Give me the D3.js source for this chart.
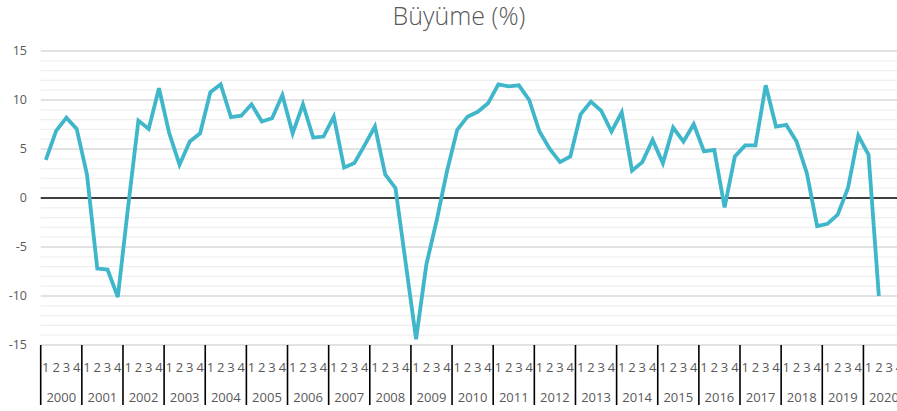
<!DOCTYPE html>
<html>
<head>
<meta charset="utf-8">
<script src="https://cdn.jsdelivr.net/npm/d3@7"></script>
<style>
  body { margin: 0; background: #fff; }
  svg text { font-family: "Open Sans", sans-serif; fill: #595959; }
</style>
</head>
<body>
<svg id="chart" width="897" height="411"></svg>
<script>
var years = d3.range(2000, 2021);
var quarters = ["1", "2", "3", "4"];
var yTicks = [15, 10, 5, 0, -5, -10, -15];

// quarterly growth, 2000Q1 .. 2020Q2
var growth = [
  3.9, 6.85, 8.2, 7.05,
  2.4, -7.2, -7.3, -10.1,
  -0.9, 7.9, 7.05, 11.2,
  6.6, 3.4, 5.76, 6.6,
  10.8, 11.6, 8.24, 8.4,
  9.56, 7.8, 8.14, 10.5,
  6.6, 9.56, 6.17, 6.27,
  8.3, 3.1, 3.56, 5.4,
  7.3, 2.4, 1.0, -6.7,
  -14.4, -6.8, -2.3, 2.7,
  6.95, 8.3, 8.8, 9.66,
  11.6, 11.4, 11.5, 10.0,
  6.78, 5.0, 3.66, 4.24,
  8.54, 9.83, 8.9, 6.78,
  8.75, 2.78, 3.66, 5.93,
  3.56, 7.19, 5.76, 7.53,
  4.75, 4.9, -0.95, 4.24,
  5.36, 5.36, 11.5, 7.29,
  7.46, 5.76, 2.54, -2.88,
  -2.64, -1.7, 1.02, 6.37,
  4.4, -10.0
];

var svg = d3.select("#chart"),
    left = 40.7,
    qw = 10.284,
    plotTop = 51,
    plotBottom = 345,
    right = 897;

var slots = [];
years.forEach(function(yr) {
  quarters.forEach(function(q) { slots.push(yr + "-" + q); });
});

var x = d3.scaleBand()
  .domain(slots)
  .range([left, left + slots.length * qw]);

var y = d3.scaleLinear()
  .domain([-15, 15])
  .range([plotBottom, plotTop]);

// minor grid
svg.append("g")
  .selectAll("line")
  .data(d3.range(-15, 16).filter(function(d) { return d % 5 !== 0; }))
  .enter().append("line")
  .attr("x1", left).attr("x2", right)
  .attr("y1", function(d) { return y(d); })
  .attr("y2", function(d) { return y(d); })
  .attr("stroke", "#efefef")
  .attr("stroke-width", 1.2);

// major grid
svg.append("g")
  .selectAll("line")
  .data(yTicks.filter(function(d) { return d !== 0; }))
  .enter().append("line")
  .attr("x1", left).attr("x2", right)
  .attr("y1", function(d) { return y(d); })
  .attr("y2", function(d) { return y(d); })
  .attr("stroke", "#d9d9d9")
  .attr("stroke-width", 1.5);

svg.append("line")
  .attr("x1", left).attr("x2", right)
  .attr("y1", y(0)).attr("y2", y(0))
  .attr("stroke", "#000")
  .attr("stroke-width", 1.6);

svg.append("g")
  .selectAll("text")
  .data(yTicks)
  .enter().append("text")
  .attr("x", 27)
  .attr("y", function(d) { return y(d); })
  .attr("dy", "0.35em")
  .attr("text-anchor", "end")
  .attr("font-size", 12.5)
  .text(function(d) { return d; });

// category axis
var cat = svg.append("g");

cat.selectAll("line")
  .data(years)
  .enter().append("line")
  .attr("x1", function(d) { return x(d + "-1"); })
  .attr("x2", function(d) { return x(d + "-1"); })
  .attr("y1", plotBottom)
  .attr("y2", 405)
  .attr("stroke", "#000")
  .attr("stroke-width", 1.6);

cat.selectAll("text.q")
  .data(slots)
  .enter().append("text")
  .attr("class", "q")
  .attr("x", function(d) { return x(d) + x.bandwidth() / 2; })
  .attr("y", 367)
  .attr("dy", "0.35em")
  .attr("text-anchor", "middle")
  .attr("font-size", 13)
  .text(function(d) { return d.split("-")[1]; });

cat.selectAll("text.yr")
  .data(years)
  .enter().append("text")
  .attr("class", "yr")
  .attr("x", function(d) { return x(d + "-1") + 2 * qw; })
  .attr("y", 397)
  .attr("dy", "0.35em")
  .attr("text-anchor", "middle")
  .attr("font-size", 13)
  .text(function(d) { return d; });

var line = d3.line()
  .x(function(d, i) { return x(slots[i]) + x.bandwidth() / 2; })
  .y(function(d) { return y(d); });

svg.append("path")
  .datum(growth)
  .attr("d", line)
  .attr("fill", "none")
  .attr("stroke", "#3fb6ca")
  .attr("stroke-width", 3.8)
  .attr("stroke-linejoin", "miter")
  .attr("stroke-linecap", "butt");

svg.append("text")
  .attr("x", 459)
  .attr("y", 25)
  .attr("text-anchor", "middle")
  .attr("font-size", 25)
  .attr("font-weight", 300)
  .text("Büyüme (%)");
</script>
</body>
</html>
